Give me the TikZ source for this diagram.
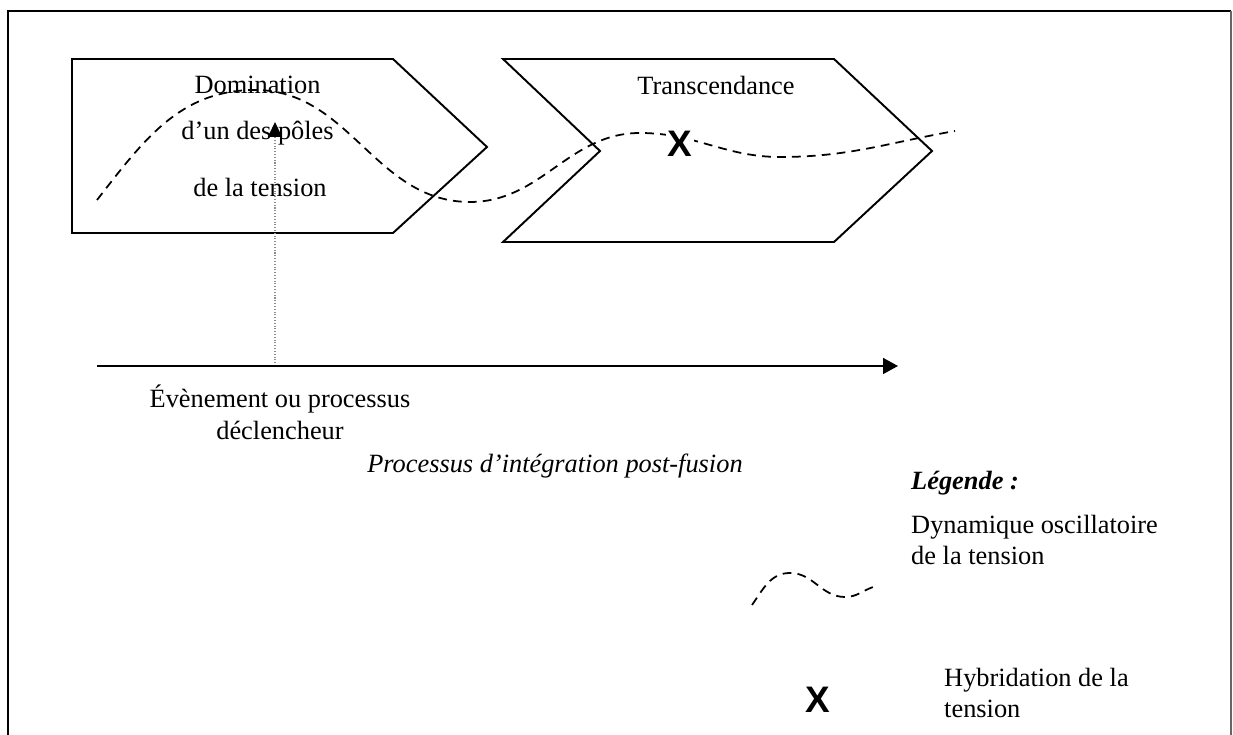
\documentclass[tikz,border=0pt]{standalone}
\usepackage{fontspec}
\setmainfont{Liberation Serif}
\newfontfamily\hybfont{Liberation Sans}
\usepackage{tkz-euclide}
\usetikzlibrary{arrows.meta}

\begin{document}
\begin{tikzpicture}[font=\fontsize{15}{18}\selectfont,
    wave/.style={line width=1pt,dash pattern=on 5pt off 3.5pt},
    hyb/.style={font=\hybfont\bfseries\fontsize{21}{21}\selectfont},
    chevron/.style={line width=1.1pt,line join=miter}]
    \useasboundingbox (0,0) rectangle (24.66,14.7);
    \tkzDefPoints{0.16/0/Fa, 0.16/14.48/Fb, 24.62/14.48/Fc, 24.62/0/Fd}
    \tkzDefPoints{1.44/13.52/A, 7.86/13.52/B, 9.74/11.76/C, 7.86/10.04/D, 1.44/10.04/E}
    \tkzDefPoints{10.06/13.52/F, 16.68/13.52/G, 18.64/11.68/H, 16.68/9.86/I, 10.06/9.86/J, 12.0/11.68/K}
    \tkzDefPoints{1.94/7.38/O, 17.96/7.38/T, 5.5/7.38/Ev, 5.5/12.26/Et}
    \draw[line width=1.2pt] (Fa) -- (Fb) -- (Fc);
    \draw[line width=1.2pt,black!60] (Fc) -- (Fd);
    \tkzDrawPolygon[chevron](A,B,C,D,E)
    \tkzDrawPolygon[chevron](F,G,H,I,J,K)

    \node (dom1) at (5.15,13.0) {Domination};
    \node (dom2) at (5.15,12.04) {d’un des pôles};
    \node (dom3) at (5.2,10.96) {de la tension};
    \node (trans) at (14.32,13.0) {Transcendance};
    \draw[wave] (1.94,10.7) to[out=52,in=180] (5.1,12.9) to[out=0,in=180] (9.4,10.66)
        to[out=0,in=180] (12.8,12.04) to[out=0,in=180] (15.6,11.56) to[out=0,in=190] (19.1,12.08);
    \node[hyb,fill=white,inner sep=1pt] (hyb1) at (13.6,11.82) {X};

    \draw[black!45,densely dotted,line width=0.6pt,-{Triangle[length=8.5pt,width=8pt,color=black]}] (Ev) -- (Et);
    \draw[line width=1.1pt,-{Triangle[length=8.5pt,width=9pt]}] (O) -- (T);
    \node[align=center] (even) at (5.6,6.45) {Évènement ou processus\\déclencheur};
    \node (titre) at (11.1,5.37) {\itshape Processus d’intégration post-fusion};

    \node[anchor=west] (leg) at (18.1,5.03) {\bfseries\itshape Légende :};
    \node[anchor=west,align=left] (leg1) at (18.1,3.9) {Dynamique oscillatoire\\de la tension};
    \draw[wave] (15.04,2.6) to[out=55,in=180] (15.8,3.24) to[out=0,in=180] (16.9,2.76) to[out=0,in=200] (17.46,2.96);
    \node[hyb] (hyb2) at (16.36,0.7) {X};
    \node[anchor=west,align=left] (leg2) at (18.76,0.84) {Hybridation de la\\tension};
\end{tikzpicture}
\end{document}
